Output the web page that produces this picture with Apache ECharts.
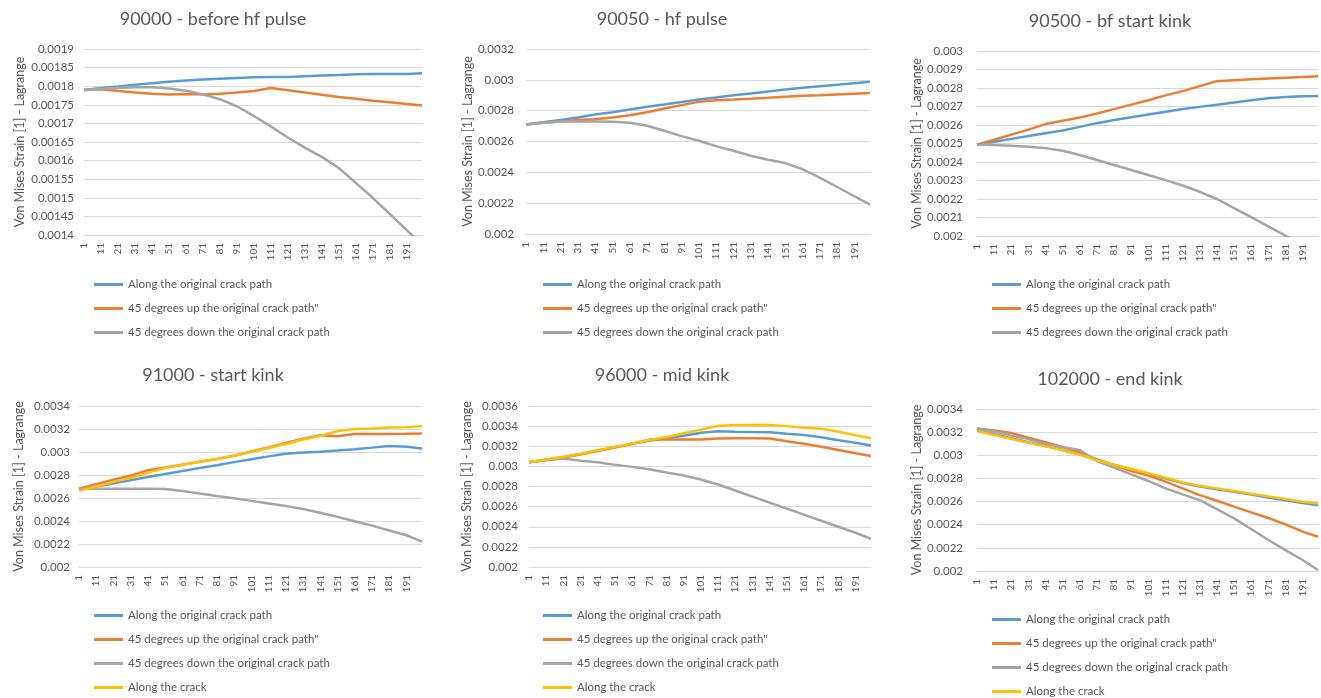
<!DOCTYPE html>
<html>
<head>
<meta charset="utf-8">
<script src="https://cdn.jsdelivr.net/npm/echarts@6/dist/echarts.min.js"></script>
<style>
  html, body { margin: 0; padding: 0; background: #ffffff; }
  #chart { width: 1321px; height: 698px; }
</style>
</head>
<body>
<div id="chart"></div>
<script>
// Position along the path: 1..200, labelled every 10th point
const categories = [];
for (let i = 1; i <= 200; i++) categories.push(String(i));

// Points (category index) at which each curve was sampled
const sampleIdx = [0, 10, 20, 30, 40, 50, 60, 70, 80, 90, 100, 110, 120, 130, 140, 150, 160, 170, 180, 190, 199];

const seriesNames = [
  'Along the original crack path',
  '45 degrees up the original crack path"',
  '45 degrees down the original crack path',
  'Along the crack'
];

// 90000 - before hf pulse
const s90000Along = [0.00179, 0.001795, 0.001799, 0.001804, 0.001808, 0.001812, 0.001815, 0.001818, 0.00182, 0.001822, 0.001824, 0.001825, 0.001825, 0.001827, 0.001829, 0.00183, 0.001832, 0.001833, 0.001833, 0.001833, 0.001835];
const s90000Up    = [0.00179, 0.001792, 0.001787, 0.001783, 0.00178, 0.001778, 0.001779, 0.001778, 0.00178, 0.001783, 0.001787, 0.001795, 0.001789, 0.001783, 0.001777, 0.001771, 0.001766, 0.001761, 0.001757, 0.001752, 0.001748];
const s90000Down  = [0.00179, 0.001793, 0.001795, 0.001797, 0.001797, 0.001794, 0.001788, 0.001778, 0.001765, 0.001746, 0.00172, 0.001692, 0.001662, 0.001635, 0.00161, 0.00158, 0.00154, 0.0015, 0.001457, 0.001413, 0.001375];

// 90050 - hf pulse
const s90050Along = [0.00271, 0.002725, 0.00274, 0.002755, 0.002775, 0.00279, 0.002808, 0.002825, 0.00284, 0.002856, 0.002872, 0.002885, 0.0029, 0.002912, 0.002925, 0.002937, 0.002948, 0.002958, 0.002968, 0.002978, 0.002988];
const s90050Up    = [0.00271, 0.002722, 0.00273, 0.00274, 0.002745, 0.002756, 0.00277, 0.00279, 0.002814, 0.002836, 0.002857, 0.002868, 0.002872, 0.002877, 0.002883, 0.00289, 0.002896, 0.0029, 0.002905, 0.00291, 0.002915];
const s90050Down  = [0.00271, 0.002722, 0.00273, 0.00273, 0.00273, 0.002728, 0.002722, 0.002702, 0.00267, 0.002635, 0.002605, 0.00257, 0.00254, 0.002508, 0.002482, 0.00246, 0.00242, 0.002365, 0.002305, 0.002245, 0.00219];

// 90500 - bf start kink
const s90500Along = [0.002494, 0.00251, 0.002525, 0.00254, 0.002555, 0.00257, 0.00259, 0.00261, 0.002627, 0.002642, 0.002657, 0.002672, 0.002686, 0.002698, 0.00271, 0.002722, 0.002734, 0.002745, 0.002752, 0.002755, 0.002757];
const s90500Up    = [0.002494, 0.00252, 0.002548, 0.002575, 0.002605, 0.002623, 0.00264, 0.002662, 0.002686, 0.00271, 0.002734, 0.00276, 0.002783, 0.00281, 0.002837, 0.002842, 0.002847, 0.002852, 0.002856, 0.00286, 0.002864];
const s90500Down  = [0.002494, 0.002492, 0.002488, 0.002482, 0.002475, 0.002461, 0.002438, 0.002411, 0.002384, 0.002357, 0.00233, 0.002302, 0.002273, 0.002239, 0.0022, 0.002151, 0.002102, 0.002052, 0.002002, 0.00195, 0.0019];

// 91000 - start kink
const s91000Along = [0.002676, 0.0027, 0.002727, 0.002755, 0.002782, 0.002808, 0.002835, 0.00286, 0.002885, 0.002912, 0.002937, 0.002962, 0.002985, 0.002995, 0.003003, 0.003012, 0.003024, 0.003038, 0.003052, 0.003045, 0.00303];
const s91000Up    = [0.00268, 0.00272, 0.00276, 0.002795, 0.002842, 0.002865, 0.00289, 0.002915, 0.00294, 0.002968, 0.003004, 0.00304, 0.003078, 0.003115, 0.003145, 0.003137, 0.003157, 0.003157, 0.003157, 0.003158, 0.00316];
const s91000Down  = [0.00268, 0.00268, 0.00268, 0.00268, 0.00268, 0.002678, 0.00266, 0.00264, 0.002618, 0.002598, 0.002575, 0.002553, 0.00253, 0.002505, 0.002472, 0.002436, 0.002398, 0.00236, 0.002318, 0.002276, 0.00222];
const s91000Crack = [0.002665, 0.0027, 0.00274, 0.002775, 0.002822, 0.00286, 0.002888, 0.002915, 0.00294, 0.002968, 0.003, 0.003035, 0.00307, 0.003108, 0.00314, 0.003182, 0.0032, 0.003205, 0.003212, 0.003215, 0.003225];

// 96000 - mid kink
const s96000Along = [0.00304, 0.003065, 0.00309, 0.00312, 0.003155, 0.00319, 0.003225, 0.003255, 0.00328, 0.003305, 0.003335, 0.003349, 0.003345, 0.003342, 0.00334, 0.003325, 0.003312, 0.00329, 0.00326, 0.003235, 0.003207];
const s96000Up    = [0.00304, 0.003065, 0.00309, 0.00312, 0.003155, 0.00319, 0.003225, 0.003266, 0.003268, 0.003268, 0.003268, 0.003278, 0.00328, 0.00328, 0.003276, 0.00325, 0.003225, 0.003195, 0.003162, 0.00313, 0.003104];
const s96000Down  = [0.00304, 0.003062, 0.003078, 0.003055, 0.00304, 0.003015, 0.002995, 0.002972, 0.00294, 0.00291, 0.00287, 0.00282, 0.00276, 0.0027, 0.00264, 0.00258, 0.00252, 0.00246, 0.0024, 0.00234, 0.00228];
const s96000Crack = [0.00304, 0.003068, 0.003095, 0.003125, 0.00316, 0.003195, 0.003228, 0.00326, 0.003292, 0.00333, 0.003365, 0.003402, 0.003412, 0.003412, 0.003412, 0.0034, 0.003385, 0.003375, 0.003345, 0.00331, 0.003279];

// 102000 - end kink
const s102000Along = [0.00322, 0.003182, 0.003147, 0.003113, 0.00308, 0.003046, 0.003008, 0.00296, 0.002916, 0.002878, 0.00284, 0.0028, 0.00276, 0.002731, 0.002707, 0.002684, 0.00266, 0.002636, 0.002612, 0.002588, 0.002568];
const s102000Up    = [0.003232, 0.003215, 0.003193, 0.003152, 0.003112, 0.003071, 0.003025, 0.002965, 0.002916, 0.002864, 0.002824, 0.002772, 0.002714, 0.002656, 0.002607, 0.002556, 0.002507, 0.002458, 0.002403, 0.00234, 0.002296];
const s102000Down  = [0.003232, 0.003205, 0.00317, 0.00314, 0.003095, 0.003069, 0.003046, 0.00295, 0.002893, 0.002835, 0.002778, 0.002714, 0.002662, 0.002613, 0.002535, 0.002455, 0.002363, 0.002268, 0.002181, 0.002095, 0.002008];
const s102000Crack = [0.00321, 0.003175, 0.003141, 0.003109, 0.003077, 0.003043, 0.003005, 0.002958, 0.002916, 0.002881, 0.002844, 0.002806, 0.002766, 0.002737, 0.002714, 0.002691, 0.002668, 0.002645, 0.002622, 0.002599, 0.002584];

const colors = ['#5B9BD5', '#ED7D31', '#A5A5A5', '#FFC000'];
const textColor = '#595959';
const gridColor = '#D9D9D9';
const fontFamily = 'Lato, "Open Sans", sans-serif';

// Layout of the six small charts
const panels = [
  { title: '90000 - before hf pulse', cx: 213, ty: 10,
    grid: { left: 84, top: 49, width: 338, height: 186 },
    y: [0.0014, 0.0019, 0.00005], labelMargin: 10, nameGap: 58,
    legend: { left: 94, top: 278 },
    data: [s90000Along, s90000Up, s90000Down] },
  { title: '90050 - hf pulse', cx: 662, ty: 10,
    grid: { left: 526, top: 49, width: 344, height: 185 },
    y: [0.002, 0.0032, 0.0002], labelMargin: 12, nameGap: 52,
    legend: { left: 543, top: 278 },
    data: [s90050Along, s90050Up, s90050Down] },
  { title: '90500 - bf start kink', cx: 1110, ty: 12,
    grid: { left: 977, top: 51, width: 341, height: 185 },
    y: [0.002, 0.003, 0.0001], labelMargin: 14, nameGap: 53,
    legend: { left: 992, top: 278 },
    data: [s90500Along, s90500Up, s90500Down] },
  { title: '91000 - start kink', cx: 213, ty: 366,
    grid: { left: 79, top: 406, width: 343, height: 161 },
    y: [0.002, 0.0034, 0.0002], labelMargin: 9, nameGap: 54,
    legend: { left: 94, top: 609 },
    data: [s91000Along, s91000Up, s91000Down, s91000Crack] },
  { title: '96000 - mid kink', cx: 662, ty: 366,
    grid: { left: 529, top: 406, width: 342, height: 161 },
    y: [0.002, 0.0036, 0.0002], labelMargin: 11, nameGap: 56,
    legend: { left: 543, top: 609 },
    data: [s96000Along, s96000Up, s96000Down, s96000Crack] },
  { title: '102000 - end kink', cx: 1110, ty: 370,
    grid: { left: 977, top: 409, width: 341, height: 162 },
    y: [0.002, 0.0034, 0.0002], labelMargin: 14, nameGap: 53,
    legend: { left: 992, top: 613 },
    data: [s102000Along, s102000Up, s102000Down, s102000Crack] }
];

const toPairs = values => values.map((v, i) => [sampleIdx[i], v]);
const fmt = v => String(+v.toFixed(6));

const option = {
  backgroundColor: '#ffffff',
  animation: false,
  textStyle: { fontFamily: fontFamily },
  title: [], grid: [], xAxis: [], yAxis: [], legend: [], series: []
};

panels.forEach((p, k) => {
  option.title.push({
    text: p.title, left: p.cx, top: p.ty, textAlign: 'center', padding: 0,
    textStyle: { fontFamily: fontFamily, fontSize: 18, fontWeight: 'normal', color: textColor }
  });
  option.grid.push(Object.assign({ containLabel: false }, p.grid));
  option.xAxis.push({
    type: 'category', gridIndex: k, data: categories, boundaryGap: false,
    axisLine: { show: true, lineStyle: { color: gridColor, width: 1 } },
    axisTick: { show: false },
    axisLabel: { interval: 9, rotate: 90, margin: 8, fontSize: 10, color: textColor, fontFamily: fontFamily },
    splitLine: { show: false }
  });
  option.yAxis.push({
    type: 'value', gridIndex: k, min: p.y[0], max: p.y[1], interval: p.y[2],
    name: 'Von Mises Strain [1] - Lagrange', nameLocation: 'middle', nameGap: p.nameGap,
    nameTextStyle: { fontSize: 12.5, color: textColor, fontFamily: fontFamily },
    axisLine: { show: false }, axisTick: { show: false },
    axisLabel: { formatter: fmt, fontSize: 11.5, color: textColor, margin: p.labelMargin, fontFamily: fontFamily },
    splitLine: { show: true, lineStyle: { color: gridColor, width: 1 } }
  });
  const names = seriesNames.slice(0, p.data.length);
  option.legend.push({
    orient: 'vertical', left: p.legend.left, top: p.legend.top, padding: 0,
    itemGap: 11, itemWidth: 29, itemHeight: 3, icon: 'rect',
    textStyle: { fontSize: 11.5, color: textColor, lineHeight: 13, fontFamily: fontFamily },
    data: names
  });
  p.data.forEach((vals, j) => {
    option.series.push({
      name: names[j], type: 'line', xAxisIndex: k, yAxisIndex: k,
      data: toPairs(vals), showSymbol: false, symbol: 'none', smooth: false,
      lineStyle: { color: colors[j], width: 2.5 },
      itemStyle: { color: colors[j] },
      emphasis: { disabled: true }, z: 2 + j
    });
  });
});

const chart = echarts.init(document.getElementById('chart'), null, { renderer: 'canvas' });
chart.setOption(option);
</script>
</body>
</html>
